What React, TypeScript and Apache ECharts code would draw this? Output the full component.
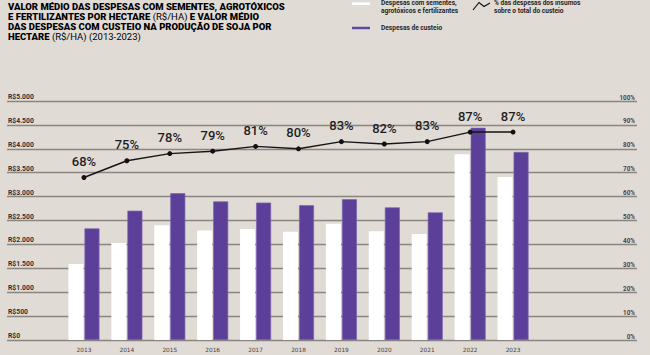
import React, { useEffect, useRef } from "react";
import * as echarts from "echarts";

const years = ["2013", "2014", "2015", "2016", "2017", "2018", "2019", "2020", "2021", "2022", "2023"];
const insumos = [1590, 2030, 2400, 2290, 2320, 2265, 2430, 2275, 2220, 3885, 3410];
const custeio = [2335, 2705, 3070, 2900, 2875, 2820, 2945, 2775, 2670, 4440, 3935];
const percent = [68, 75, 78, 79, 81, 80, 83, 82, 83, 87, 87];

const BG = "#e1dbd6";
const PURPLE = "#5b3f99";
const FONT = "Roboto, 'Noto Sans', sans-serif";

export default function App() {
  const ref = useRef<HTMLDivElement>(null);
  useEffect(() => {
    const chart = echarts.init(ref.current!, undefined, { renderer: "svg" });
    const titleRich = {
      b: { fontFamily: FONT, fontWeight: 900, fontSize: 9.5, color: "#1a1a1a" },
      r: { fontFamily: FONT, fontWeight: "normal", fontSize: 9.5, color: "#3a3a3a" },
    };
    const legendText = { fontFamily: FONT, fontWeight: "bold", fontSize: 6.6, fill: "#262626", lineHeight: 7.5 };
    chart.setOption({
      animation: false,
      backgroundColor: BG,
      grid: [
        { left: 7, right: 13, top: 101, bottom: 15 },
        { left: 62.5, right: 115.5, top: 101, bottom: 15 },
      ],
      xAxis: [
        { gridIndex: 0, type: "value", min: 0, max: 1, show: false },
        {
          gridIndex: 1,
          type: "category",
          data: years,
          axisLine: { show: false },
          axisTick: { show: false },
          axisLabel: { fontSize: 5.8, color: "#444", margin: 7, fontFamily: "'DejaVu Sans', sans-serif" },
        },
      ],
      yAxis: [
        {
          gridIndex: 0,
          type: "value",
          min: 0,
          max: 5000,
          interval: 500,
          position: "left",
          axisLine: { show: false },
          axisTick: { show: false },
          splitLine: { lineStyle: { color: "#8a8581", width: 1.3 } },
          axisLabel: {
            inside: true,
            margin: 1,
            verticalAlign: "bottom",
            padding: [0, 0, 0.5, 0],
            fontSize: 6.8,
            fontWeight: "bold",
            color: "#2f2f3a",
            fontFamily: FONT,
            formatter: (v: number) => "R$" + (v >= 1000 ? v.toLocaleString("de-DE") : String(v)),
          },
        },
        {
          gridIndex: 0,
          type: "value",
          min: 0,
          max: 100,
          interval: 10,
          position: "right",
          axisLine: { show: false },
          axisTick: { show: false },
          splitLine: { show: false },
          axisLabel: {
            inside: true,
            margin: 2,
            verticalAlign: "bottom",
            padding: [0, 0, 0.5, 0],
            fontSize: 6.3,
            fontWeight: "bold",
            color: "#45454f",
            fontFamily: FONT,
            formatter: "{value}%",
          },
        },
        { gridIndex: 1, type: "value", min: 0, max: 5000, show: false },
        { gridIndex: 1, type: "value", min: 0, max: 100, show: false },
      ],
      series: [
        {
          name: "Despesas com sementes, agrotóxicos e fertilizantes",
          type: "bar",
          xAxisIndex: 1,
          yAxisIndex: 2,
          data: insumos,
          barWidth: 15,
          barGap: "7%",
          itemStyle: { color: "#ffffff" },
        },
        {
          name: "Despesas de custeio",
          type: "bar",
          xAxisIndex: 1,
          yAxisIndex: 2,
          data: custeio,
          barWidth: 15,
          itemStyle: { color: PURPLE, borderColor: "#7b67b0", borderWidth: 0.7 },
        },
        {
          name: "% das despesas dos insumos sobre o total do custeio",
          type: "line",
          xAxisIndex: 1,
          yAxisIndex: 3,
          data: percent,
          symbol: "circle",
          symbolSize: 5,
          z: 5,
          lineStyle: { color: "#151515", width: 1.4 },
          itemStyle: { color: "#111" },
          label: {
            show: true,
            position: "top",
            distance: 7,
            formatter: "{c}%",
            fontSize: 13,
            fontWeight: 500,
            color: "#1e1e1e",
            fontFamily: FONT,
          },
        },
      ],
      graphic: [
        {
          type: "text",
          left: 8,
          top: 1,
          style: { text: "{b|VALOR MÉDIO DAS DESPESAS COM SEMENTES, AGROTÓXICOS}", rich: titleRich },
        },
        {
          type: "text",
          left: 8,
          top: 11.3,
          style: { text: "{b|E FERTILIZANTES POR HECTARE }{r|(R$/HA)}{b| E VALOR MÉDIO}", rich: titleRich },
        },
        {
          type: "text",
          left: 8,
          top: 21.6,
          style: { text: "{b|DAS DESPESAS COM CUSTEIO NA PRODUÇÃO DE SOJA POR}", rich: titleRich },
        },
        {
          type: "text",
          left: 8,
          top: 31.9,
          style: { text: "{b|HECTARE }{r|(R$/HA) (2013-2023)}", rich: titleRich },
        },
        { type: "line", shape: { x1: 352, y1: 3.7, x2: 370, y2: 3.7 }, style: { stroke: "#ffffff", lineWidth: 2.5 } },
        { type: "text", x: 381, y: -0.5, style: { text: "Despesas com sementes,\nagrotóxicos e fertilizantes", ...legendText } },
        { type: "line", shape: { x1: 352, y1: 28, x2: 370, y2: 28 }, style: { stroke: "#6148a3", lineWidth: 2.5 } },
        { type: "text", x: 381, y: 24, style: { text: "Despesas de custeio", ...legendText } },
        {
          type: "polyline",
          shape: { points: [[473, 10], [479, 2.5], [484, 6.5], [490, 3]] },
          style: { stroke: "#111", lineWidth: 1.2, fill: null },
        },
        { type: "text", x: 494, y: -0.5, style: { text: "% das despesas dos insumos\nsobre o total do custeio", ...legendText } },
      ],
    });
    return () => chart.dispose();
  }, []);
  return <div ref={ref} style={{ width: 650, height: 355, position: "absolute", left: 0, top: 0 }} />;
}
